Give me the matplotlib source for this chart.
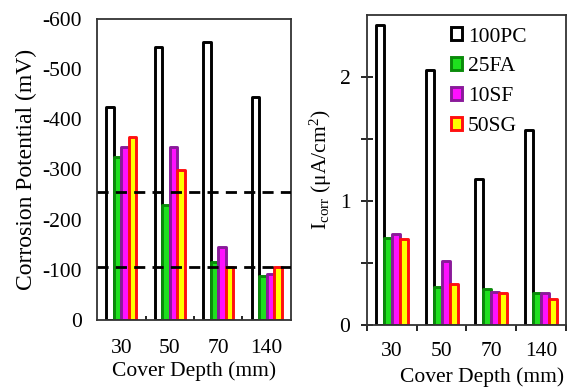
import matplotlib.pyplot as plt
import numpy as np

plt.rcParams['font.family'] = ['Liberation Serif', 'DejaVu Serif']
plt.rcParams['axes.unicode_minus'] = False
plt.rcParams['mathtext.fontset'] = 'custom'
plt.rcParams['mathtext.rm'] = 'Liberation Serif'
plt.rcParams['mathtext.it'] = 'Liberation Serif:italic'

depths = ['30', '50', '70', '140']
mixes = ['100PC', '25FA', '10SF', '50SG']

# corrosion potential (mV), one list per mix
ecorr = {
    '100PC': [-425, -545, -555, -445],
    '25FA': [-325, -230, -115, -88],
    '10SF': [-345, -345, -145, -92],
    '50SG': [-365, -300, -105, -105],
}
# corrosion current density (uA/cm2)
icorr = {
    '100PC': [2.42, 2.06, 1.18, 1.57],
    '25FA': [0.70, 0.31, 0.29, 0.26],
    '10SF': [0.73, 0.52, 0.27, 0.26],
    '50SG': [0.69, 0.33, 0.26, 0.21],
}
thresholds = [-106, -256]

fill = {'100PC': 'white', '25FA': '#1ee01e', '10SF': '#ff10ff', '50SG': '#ffff00'}
edge = {'100PC': 'black', '25FA': '#0a8a0a', '10SF': '#8a1a9a', '50SG': '#ff1010'}

fig = plt.figure(figsize=(5.68, 3.90), dpi=100)
ax1 = fig.add_axes([97 / 568, 70 / 390, 194 / 568, 301 / 390])
ax2 = fig.add_axes([367 / 568, 65 / 390, 199 / 568, 310 / 390])

x = np.arange(len(depths))
fs = 15.5


def draw_bars(ax, data, w):
    for i, m in enumerate(mixes):
        ax.bar(x + (i - 1.5) * w, data[m], w, color=fill[m], edgecolor=edge[m],
               linewidth=2.1, joinstyle='round', label=m, zorder=2)


# left: corrosion potential
draw_bars(ax1, ecorr, 0.155)
for t in thresholds:
    ax1.axhline(t, color='black', lw=2, ls=(0, (4, 2.6)), zorder=3)
ax1.set_xlim(-0.5, 3.5)
ax1.set_ylim(0, -600)
ax1.set_yticks(np.arange(0, -601, -100))
ax1.set_xticks(x)
ax1.set_xticklabels(depths)
ax1.set_xticks([0.5, 1.5, 2.5], minor=True)
ax1.tick_params(axis='x', which='major', length=0, pad=14, labelsize=fs)
ax1.tick_params(axis='x', which='minor', direction='in', length=3, width=1.2)
ax1.tick_params(axis='y', length=0, pad=11, labelsize=fs)
ax1.set_xlabel('Cover Depth (mm)', fontsize=fs, labelpad=2)
ax1.set_ylabel('Corrosion Potential (mV)', fontsize=17, labelpad=4)

# right: corrosion current
draw_bars(ax2, icorr, 0.16)
ax2.set_xlim(-0.5, 3.5)
ax2.set_ylim(0, 2.5)
ax2.set_yticks([0, 1, 2])
ax2.set_yticks([0.5, 1.5], minor=True)
ax2.set_xticks(x)
ax2.set_xticklabels(depths)
ax2.set_xticks([-0.5, 0.5, 1.5, 2.5, 3.5], minor=True)
ax2.tick_params(axis='x', which='major', length=0, pad=12, labelsize=fs)
ax2.tick_params(axis='x', which='minor', direction='out', length=4, width=1.2)
ax2.tick_params(axis='y', which='both', direction='inout', length=8, width=1.2,
                labelsize=fs, pad=8)
ax2.set_xlabel('Cover Depth (mm)', fontsize=fs)
ax2.xaxis.set_label_coords(0.58, -0.135)
ax2.set_ylabel(r'I$_{\mathrm{corr}}$ ($\mathrm{\mu A/cm^2}$)', fontsize=fs, labelpad=4)
ax2.legend(loc='upper left', frameon=False, fontsize=fs, handlelength=0.55,
           handleheight=0.55, handletextpad=0.25, labelspacing=0.5,
           borderpad=0, borderaxespad=0, bbox_to_anchor=(0.42, 0.96))

for ax in (ax1, ax2):
    for s in ax.spines.values():
        s.set_linewidth(1.3)
        s.set_color('#333333')

fig.savefig('out.png', dpi=100)
